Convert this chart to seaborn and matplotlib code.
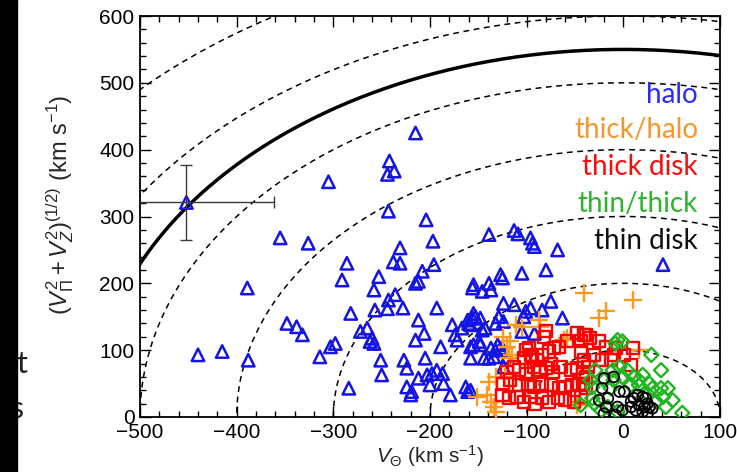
import numpy as np
import pandas as pd
import matplotlib
matplotlib.use("Agg")
import matplotlib.pyplot as plt
from matplotlib.patches import Rectangle
from matplotlib.ticker import MultipleLocator
import seaborn as sns

# ---------------- data ----------------
halo_v = [-452, -305, -355, -326, -215, -242, -244, -237, -243, -204, -197, -231, -139, -113,
          -109, -96, -94, -92, -68, 41, -286, -238, -231, -196, -258, -208, -212, -215, -236,
          -243, -257, -244, -228, -193, -291, -253, -282, -265, -272, -260, -258, -262, -298,
          -212, -206, -215, -189, -177, -174, -172, -167, -161, -156, -155, -156, -160, -251,
          -250, -284, -227, -224, -205, -203, -198, -193, -187, -212, -224, -219, -220, -200,
          -186, -179, -163, -161, -389, -440, -415, -388, -348, -338, -332, -314, -303, -127,
          -125, -105, -80, -155, -139, -137, -146, -124, -113, -96, -84, -75, -63, -101, -103,
          -129, -124, -132, -153, -148, -158, -146, -143, -105, -92, -155, -148, -137, -132,
          -130, -127, -124, -158, -144, -139, -134, -120, -124, -158, -149, -158]
halo_t = [321, 352, 268, 260, 425, 383, 363, 368, 308, 295, 263, 253, 273, 279,
          274, 268, 260, 255, 250, 228, 230, 232, 230, 228, 190, 218, 203, 200, 183,
          175, 160, 162, 163, 163, 205, 210, 155, 133, 128, 118, 110, 113, 110,
          145, 125, 115, 105, 138, 123, 115, 133, 145, 193, 155, 148, 140, 85,
          63, 43, 85, 73, 88, 63, 65, 70, 65, 58, 45, 38, 33, 48,
          50, 33, 45, 38, 193, 93, 98, 85, 140, 135, 123, 90, 105, 213,
          208, 215, 220, 198, 200, 190, 188, 170, 168, 163, 160, 173, 148, 158, 150,
          150, 143, 140, 150, 148, 138, 130, 133, 128, 125, 108, 108, 103, 100,
          108, 103, 100, 88, 88, 88, 90, 90, 75, 40, 113, 105]

thickhalo_v = [-41, -18, -25, 10, -111, -105, -87, -86, -117, -124, -120, -115, -118, -58,
               -61, -132, -139, -151, -141, -137, -134, -132, -48, -46, 16, -122]
thickhalo_t = [185, 158, 148, 175, 138, 135, 145, 135, 113, 120, 105, 93, 88, 118,
               115, 60, 53, 30, 33, 23, 15, 8, 18, 23, 100, 60]

thick_v = [-80, -82, -101, -98, -103, -94, -84, -77, -72, -67, -58, -48, -44, -39,
           -113, -108, -101, -92, -86, -80, -73, -65, -54, -48, -42,
           -124, -117, -108, -99, -92, -84, -75, -67, -60, -53, -46, -39,
           -125, -118, -110, -103, -96, -91, -84, -77, -68, -60, -51, -44,
           -75, -89, -96, -120, -41, -34, -25, -18, -8, -10, 1, 10, 8, -44, -41, -37,
           -30, -22, -13, -39, -42]
thick_t = [128, 120, 100, 103, 88, 90, 93, 98, 103, 105, 113, 125, 113, 123,
           75, 70, 65, 75, 70, 73, 68, 75, 70, 73, 65,
           50, 55, 48, 50, 45, 50, 48, 43, 45, 48, 50, 43,
           33, 28, 30, 23, 30, 20, 28, 23, 28, 25, 23, 30,
           80, 85, 93, 68, 123, 118, 113, 105, 103, 93, 93, 103, 78, 98, 85, 75,
           93, 85, 85, 60, 50]

thinthick_v = [-1, -8, 29, 39, -11, -4, 4, 11, 16, 20, 27, 30, 39, 46, 44, 34, 41, 25,
               16, 8, -1, -10, -13, -20, -29, -32, -30, -23, -16, -6, -6, 61, 51,
               -34, -32, -44]
thinthick_t = [113, 110, 93, 70, 70, 75, 70, 60, 55, 63, 50, 43, 43, 43, 15, 23, 30, 35,
               48, 48, 60, 55, 43, 55, 70, 45, 20, 10, 15, 8, 115, 6, 25,
               55, 28, 18]

thin_v = [-20, -22, -16, -25, -18, -20, -4, 1, -6, -1, 8, 11, 15, 20, 23, 25, 16, 22,
          27, 30, 20, 25, 13, 8, -8, -10]
thin_t = [58, 43, 28, 25, 15, 5, 38, 38, 15, 10, 23, 28, 33, 30, 28, 20, 18, 15,
          15, 13, 8, 5, 10, 15, 3, 60]

err_v, err_t = -452, 321
err_dv, err_dt = 91, 56

circle_radii = [100, 200, 300, 400, 500, 600, 700]
vesc = 550

labels = ["halo", "thick/halo", "thick disk", "thin/thick", "thin disk"]
label_colors = ["#2a2aff", "#f7962e", "#ff0a0a", "#2db52d", "#111111"]

# ---------------- style ----------------
sns.set_theme(style="ticks")
plt.rcParams["font.family"] = ["Liberation Sans", "DejaVu Sans"]
plt.rcParams["mathtext.fontset"] = "custom"
plt.rcParams["mathtext.rm"] = "Liberation Sans"
plt.rcParams["mathtext.it"] = "Liberation Sans:italic"
plt.rcParams["mathtext.bf"] = "Liberation Sans:bold"

W, H = 737, 472
fig = plt.figure(figsize=(W / 100, H / 100), dpi=100)
ax = fig.add_axes([140 / W, 1 - 417 / H, 580 / W, 401 / H])

# reference circles
th = np.linspace(0, np.pi, 600)
for r in circle_radii:
    ax.plot(r * np.cos(th), r * np.sin(th), color="black", lw=1.1,
            ls=(0, (3.8, 3)), zorder=1)
ax.plot(vesc * np.cos(th), vesc * np.sin(th), color="black", lw=2.5, zorder=2)

# points
def open_scatter(v, t, marker, color, s, lw=1.7):
    df = pd.DataFrame({"v": v, "t": t})
    if marker in ("+", "x"):
        sns.scatterplot(data=df, x="v", y="t", marker=marker, s=s, color=color,
                        linewidth=lw, ax=ax, zorder=3, legend=False)
    else:
        sns.scatterplot(data=df, x="v", y="t", marker=marker, s=s,
                        facecolors="none", edgecolor=color, linewidth=lw,
                        ax=ax, zorder=3, legend=False)

open_scatter(halo_v, halo_t, "^", "#1414e6", 80, lw=1.8)
open_scatter(thickhalo_v, thickhalo_t, "+", "#ff9a1a", 170, lw=1.7)
open_scatter(thick_v, thick_t, "s", "#ff0000", 75)
open_scatter(thinthick_v, thinthick_t, "D", "#22b522", 52)
open_scatter(thin_v, thin_t, "o", "#000000", 60, lw=1.3)

ax.errorbar([err_v], [err_t], xerr=[err_dv], yerr=[err_dt], fmt="none",
            ecolor="#3a3a3a", elinewidth=1.0, capsize=4, capthick=1.0, zorder=4)

# colored category labels
ys = [0.803, 0.716, 0.624, 0.532, 0.44]
for lab, c, y in zip(labels, label_colors, ys):
    ax.text(0.962, y, lab, color=c, ha="right", va="center", fontsize=20,
            family=["Lato", "DejaVu Sans"], transform=ax.transAxes, zorder=5)

ax.set_xlim(-500, 100)
ax.set_ylim(0, 600)
ax.set_xticks(range(-500, 101, 100))
ax.set_yticks(range(0, 601, 100))
ax.xaxis.set_minor_locator(MultipleLocator(20))
ax.yaxis.set_minor_locator(MultipleLocator(20))
ax.tick_params(which="both", direction="in", top=True, right=True, colors="black",
               labelsize=15, width=1.0)
ax.tick_params(which="major", length=8, pad=4)
ax.tick_params(which="minor", length=4)
for sp in ax.spines.values():
    sp.set_linewidth(1.3)
    sp.set_color("black")

ax.set_xlabel(r"$V_{\Theta}$ (km s$^{-1}$)", fontsize=15)
ax.xaxis.set_label_coords(0.5, -0.066)
ax.set_ylabel(r"$(V_{\Pi}^{2}+V_{Z}^{2})^{(1/2)}$ (km s$^{-1}$)", fontsize=17)
ax.yaxis.set_label_coords(-0.11, 0.53)

# screenshot remnants on the left
fig.text(16 / W, 1 - 373 / H, "t", fontsize=22, color="#222222",
         family=["Lato", "DejaVu Sans"], va="baseline", ha="left", zorder=0)
fig.text(10 / W, 1 - 418 / H, "s", fontsize=22, color="#222222",
         family=["Lato", "DejaVu Sans"], va="baseline", ha="left", zorder=0)
fig.patches.append(Rectangle((0, 0), 17 / W, 1, transform=fig.transFigure,
                             color="black", zorder=10))

fig.savefig("out.png", dpi=100)
